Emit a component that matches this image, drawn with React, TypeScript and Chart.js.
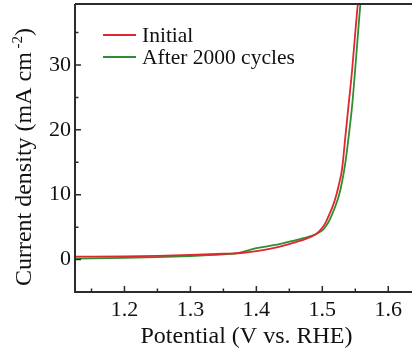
import React, { useEffect, useRef } from "react";
import { Chart, registerables } from "chart.js";

Chart.register(...registerables);

// ---- data ----
const initialX = [1.125, 1.2, 1.25, 1.3, 1.35, 1.38, 1.4, 1.42, 1.44, 1.46, 1.47, 1.48, 1.49, 1.5, 1.505, 1.51, 1.515, 1.52, 1.525, 1.53, 1.535, 1.54, 1.545, 1.55, 1.554, 1.557];
const initialY = [0.45, 0.5, 0.58, 0.72, 0.9, 1.05, 1.3, 1.65, 2.1, 2.7, 3.0, 3.4, 3.9, 4.9, 5.7, 6.8, 8.0, 9.5, 11.5, 14.0, 19.0, 24.0, 29.0, 35.0, 39.5, 42.0];
const cyclesX = [1.125, 1.2, 1.25, 1.3, 1.35, 1.37, 1.38, 1.39, 1.4, 1.42, 1.44, 1.46, 1.47, 1.48, 1.49, 1.5, 1.505, 1.51, 1.515, 1.52, 1.525, 1.53, 1.535, 1.54, 1.545, 1.55, 1.555, 1.559];
const cyclesY = [0.15, 0.25, 0.38, 0.55, 0.8, 0.95, 1.2, 1.5, 1.75, 2.1, 2.5, 3.0, 3.25, 3.55, 3.9, 4.5, 5.1, 5.9, 7.0, 8.3, 9.8, 12.0, 15.0, 19.0, 23.5, 29.5, 36.0, 41.0];

const seriesLabels = ["Initial", "After 2000 cycles"];
const seriesColors = ["#e0262f", "#2f8f2f"];

const xMajorTicks = [1.2, 1.3, 1.4, 1.5, 1.6];
const xMinorTicks = [1.15, 1.25, 1.35, 1.45, 1.55];
const yMajorTicks = [0, 10, 20, 30];
const yMinorTicks = [5, 15, 25, 35];

const X_MIN = 1.125;
const X_MAX = 1.636;
const Y_MIN = -5;
const Y_MAX = 39.4;

const xTitle = "Potential (V vs. RHE)";
const yTitleMain = "Current density (mA cm";
const yTitleSup = " -2";
const yTitleEnd = ")";

const FONT = "'Liberation Serif', 'Times New Roman', serif";
const AXIS_COLOR = "#2b2b2b";

const decorPlugin = {
  id: "decor",
  afterDatasetsDraw(chart: any) {
    const { ctx, chartArea, scales } = chart;
    const xs = scales.x;
    const ys = scales.y;
    ctx.save();
    ctx.strokeStyle = AXIS_COLOR;
    ctx.lineWidth = 2;
    ctx.beginPath();
    ctx.moveTo(chartArea.left, chartArea.top);
    ctx.lineTo(chartArea.left, chartArea.bottom);
    ctx.lineTo(chartArea.right, chartArea.bottom);
    ctx.moveTo(chartArea.left, chartArea.top);
    ctx.lineTo(chartArea.right, chartArea.top);
    ctx.stroke();
    ctx.lineWidth = 1.5;
    ctx.beginPath();
    xMajorTicks.forEach((v) => {
      const px = xs.getPixelForValue(v);
      ctx.moveTo(px, chartArea.bottom);
      ctx.lineTo(px, chartArea.bottom - 6);
    });
    xMinorTicks.forEach((v) => {
      const px = xs.getPixelForValue(v);
      ctx.moveTo(px, chartArea.bottom);
      ctx.lineTo(px, chartArea.bottom - 3.5);
    });
    yMajorTicks.forEach((v) => {
      const py = ys.getPixelForValue(v);
      ctx.moveTo(chartArea.left, py);
      ctx.lineTo(chartArea.left + 6, py);
    });
    yMinorTicks.forEach((v) => {
      const py = ys.getPixelForValue(v);
      ctx.moveTo(chartArea.left, py);
      ctx.lineTo(chartArea.left + 3.5, py);
    });
    ctx.stroke();

    // legend
    ctx.font = `21.5px ${FONT}`;
    ctx.textBaseline = "middle";
    ctx.textAlign = "left";
    const lx0 = chartArea.left + 28;
    const lx1 = chartArea.left + 61;
    const ly0 = chartArea.top + 31;
    const lgap = 22;
    seriesLabels.forEach((lab, i) => {
      const y = ly0 + i * lgap;
      ctx.strokeStyle = seriesColors[i];
      ctx.lineWidth = 2;
      ctx.beginPath();
      ctx.moveTo(lx0, y);
      ctx.lineTo(lx1, y);
      ctx.stroke();
      ctx.fillStyle = "#111";
      ctx.fillText(lab, lx1 + 6, y + 1);
    });

    // x title
    ctx.fillStyle = "#111";
    ctx.font = `24px ${FONT}`;
    ctx.textAlign = "center";
    ctx.textBaseline = "middle";
    ctx.fillText(xTitle, 246.5, 337);

    // y title (rotated, with superscript)
    ctx.translate(23, 157);
    ctx.rotate(-Math.PI / 2);
    ctx.textAlign = "left";
    ctx.textBaseline = "alphabetic";
    const mainFont = `24px ${FONT}`;
    const supFont = `15px ${FONT}`;
    ctx.font = mainFont;
    const w1 = ctx.measureText(yTitleMain).width;
    const w3 = ctx.measureText(yTitleEnd).width;
    ctx.font = supFont;
    const w2 = ctx.measureText(yTitleSup).width;
    const total = w1 + w2 + w3;
    let x = -total / 2;
    const base = 8;
    ctx.font = mainFont;
    ctx.fillText(yTitleMain, x, base);
    x += w1;
    ctx.font = supFont;
    ctx.fillText(yTitleSup, x, base - 9);
    x += w2;
    ctx.font = mainFont;
    ctx.fillText(yTitleEnd, x, base);
    ctx.restore();
  },
};

export default function App() {
  const ref = useRef<HTMLCanvasElement>(null);
  useEffect(() => {
    if (!ref.current) return;
    const chart = new Chart(ref.current, {
      type: "line",
      data: {
        datasets: [
          {
            label: seriesLabels[0],
            data: initialX.map((x, i) => ({ x, y: initialY[i] })),
            borderColor: seriesColors[0],
            borderWidth: 1.8,
            pointRadius: 0,
            cubicInterpolationMode: "monotone",
          },
          {
            label: seriesLabels[1],
            data: cyclesX.map((x, i) => ({ x, y: cyclesY[i] })),
            borderColor: seriesColors[1],
            borderWidth: 1.8,
            pointRadius: 0,
            cubicInterpolationMode: "monotone",
          },
        ],
      },
      options: {
        responsive: false,
        animation: false,
        layout: { padding: { top: 4, right: 0, left: 0, bottom: 0 } },
        plugins: { legend: { display: false }, tooltip: { enabled: false } },
        scales: {
          x: {
            type: "linear",
            min: X_MIN,
            max: X_MAX,
            grid: { display: false, drawTicks: false },
            border: { display: false },
            ticks: {
              stepSize: 0.1,
              includeBounds: false,
              padding: 5,
              color: "#111",
              font: { family: FONT, size: 22 },
              maxRotation: 0,
              callback: (v: any) => Number(v).toFixed(1),
            },
            afterFit: (s: any) => {
              s.height = 64;
              s.paddingLeft = 0;
              s.paddingRight = 0;
            },
          },
          y: {
            type: "linear",
            min: Y_MIN,
            max: Y_MAX,
            grid: { display: false, drawTicks: false },
            border: { display: false },
            ticks: {
              stepSize: 10,
              includeBounds: false,
              padding: 4,
              color: "#111",
              font: { family: FONT, size: 22 },
              callback: (v: any) => String(Math.round(Number(v))),
            },
            afterFit: (s: any) => {
              s.width = 75;
              s.paddingTop = 0;
              s.paddingBottom = 0;
            },
          },
        },
      },
      plugins: [decorPlugin],
    } as any);
    return () => chart.destroy();
  }, []);
  return (
    <div style={{ position: "absolute", left: 0, top: 0, width: 412, height: 356, background: "#fff" }}>
      <canvas ref={ref} width={412} height={356} style={{ display: "block" }} />
    </div>
  );
}
